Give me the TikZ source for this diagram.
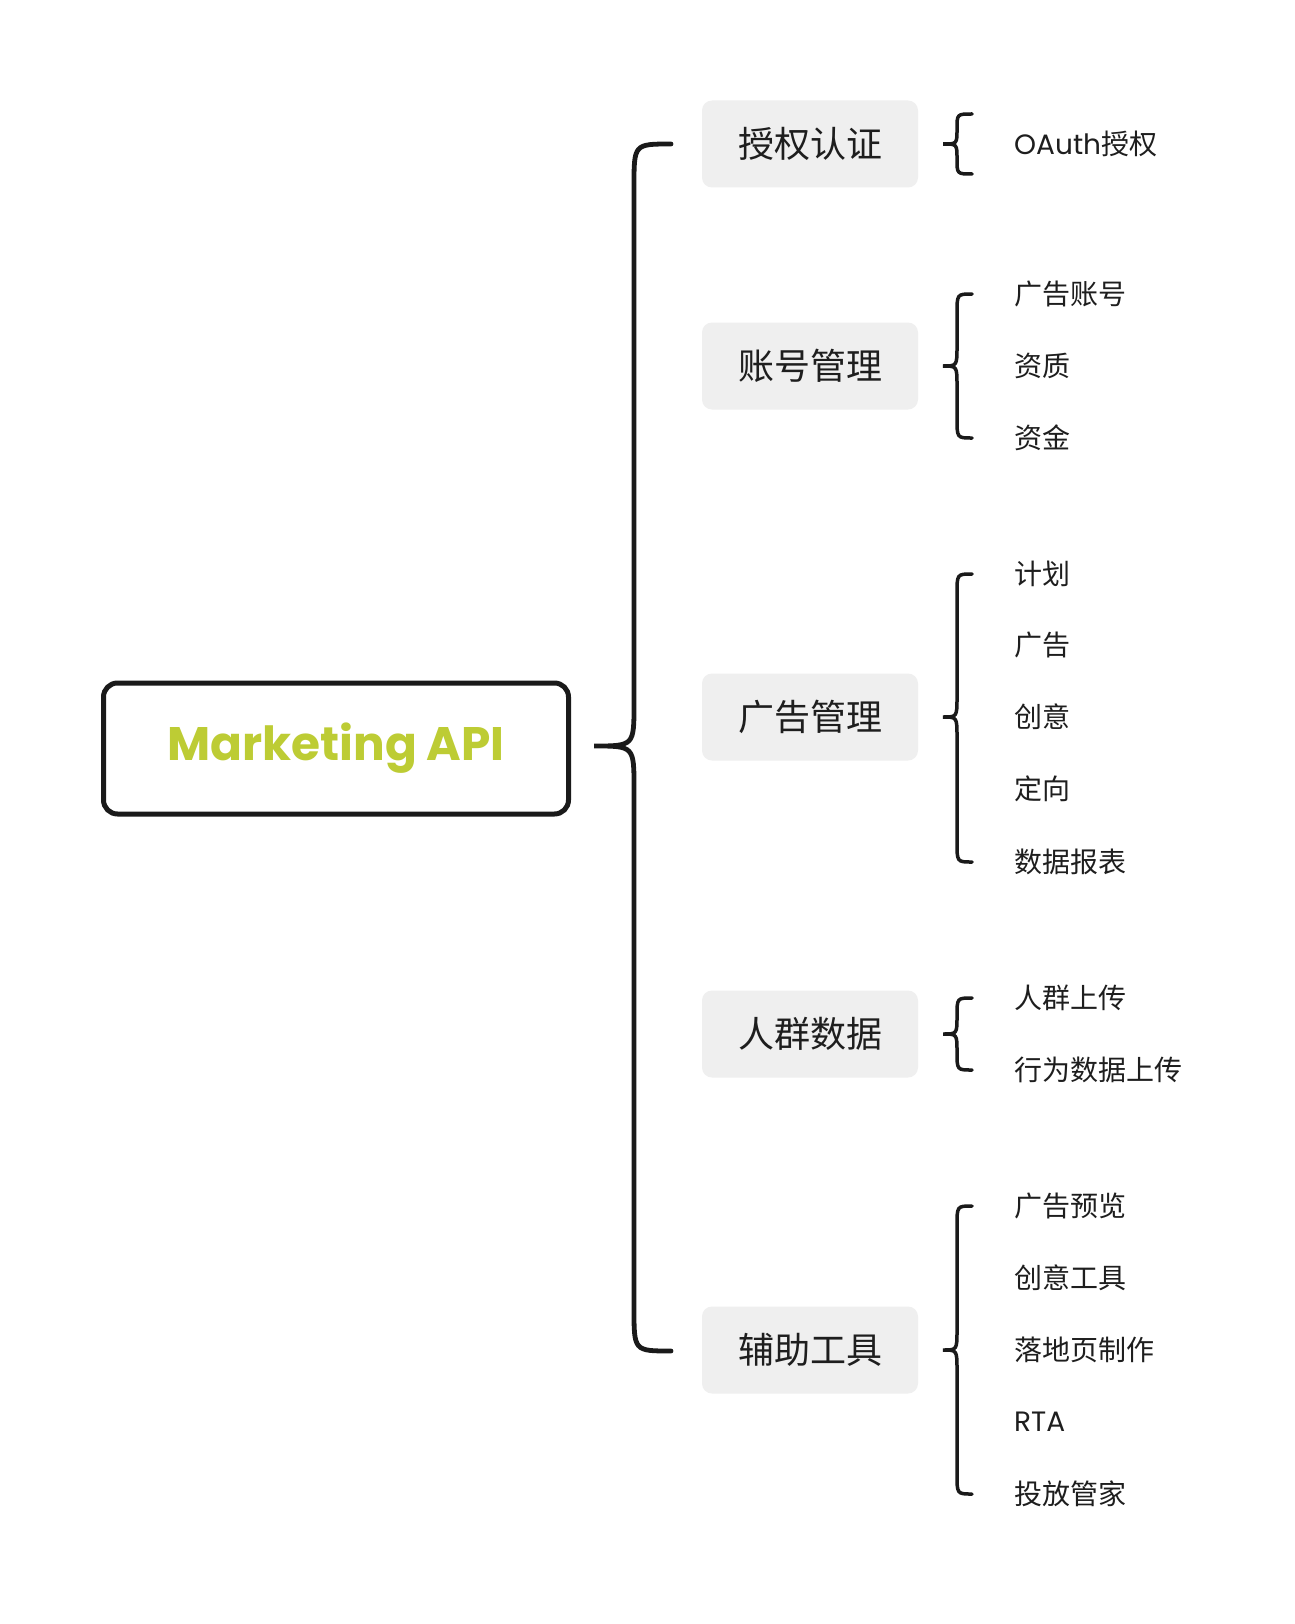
\documentclass[tikz,border=0pt]{standalone}
\usepackage{fontspec}
\setmainfont{Noto Sans CJK SC}
\newfontfamily\latfont{Poppins}
\definecolor{txt}{HTML}{1E1E1E}
\definecolor{boxfill}{HTML}{EFEFEF}
\definecolor{apigreen}{HTML}{BDCC34}
\definecolor{linecol}{HTML}{1A1A1A}
\newcommand\mybrace[8]{% style, xe, xl, xt, yt, ym, yb, r
  \draw[#1] (#2,#5) .. controls (#3,#5) .. (#3,#5+#8) -- (#3,#6-#8)
    .. controls (#3,#6) .. (#4,#6) .. controls (#3,#6) .. (#3,#6+#8)
    -- (#3,#7-#8) .. controls (#3,#7) .. (#2,#7);}
\begin{document}
\begin{tikzpicture}[x=1pt,y=-1pt,
  mainbox/.style={draw=linecol, line width=5pt, rounded corners=14pt, fill=white,
    minimum width=465pt, minimum height=131pt, inner sep=0pt,
    font=\latfont\bfseries\fontsize{47}{52}\selectfont, text=apigreen},
  catbox/.style={fill=boxfill, rounded corners=10pt, minimum width=216pt,
    minimum height=87pt, inner sep=0pt, text=txt, font=\fontsize{36}{40}\selectfont},
  leaf/.style={anchor=west, inner sep=0pt, text=txt, font=\fontsize{28}{31}\selectfont},
  bigbr/.style={draw=linecol, line width=4.8pt, line cap=round},
  smallbr/.style={draw=linecol, line width=3.5pt, line cap=round}]
\useasboundingbox[fill=white] (0,0) rectangle (1294,1624);

\node[mainbox] (main) at (336,748.5) {Marketing API};

\node[catbox] (c1) at (810,144) {授权认证};
\node[catbox] (c2) at (810,366) {账号管理};
\node[catbox] (c3) at (810,717) {广告管理};
\node[catbox] (c4) at (810,1034) {人群数据};
\node[catbox] (c5) at (810,1350) {辅助工具};

% big brace from main to categories
\mybrace{bigbr}{671}{634}{594}{144}{746}{1351}{42}

% small braces
\mybrace{smallbr}{972}{957}{943}{114}{144}{174}{15}
\mybrace{smallbr}{972}{957}{943}{294}{366}{438}{20}
\mybrace{smallbr}{972}{957}{943}{574}{717}{862}{20}
\mybrace{smallbr}{972}{957}{943}{998}{1034}{1070}{18}
\mybrace{smallbr}{972}{957}{943}{1206}{1350}{1494}{20}

\node[leaf] (l11) at (1014,144) {{\latfont OAuth}授权};

\node[leaf] (l21) at (1014,294) {广告账号};
\node[leaf] (l22) at (1014,366) {资质};
\node[leaf] (l23) at (1014,438) {资金};

\node[leaf] (l31) at (1014,574) {计划};
\node[leaf] (l32) at (1014,645) {广告};
\node[leaf] (l33) at (1014,717) {创意};
\node[leaf] (l34) at (1014,789) {定向};
\node[leaf] (l35) at (1014,862) {数据报表};

\node[leaf] (l41) at (1014,998) {人群上传};
\node[leaf] (l42) at (1014,1070) {行为数据上传};

\node[leaf] (l51) at (1014,1206) {广告预览};
\node[leaf] (l52) at (1014,1278) {创意工具};
\node[leaf] (l53) at (1014,1350) {落地页制作};
\node[leaf] (l54) at (1014,1422) {{\latfont RTA}};
\node[leaf] (l55) at (1014,1494) {投放管家};
\end{tikzpicture}
\end{document}
